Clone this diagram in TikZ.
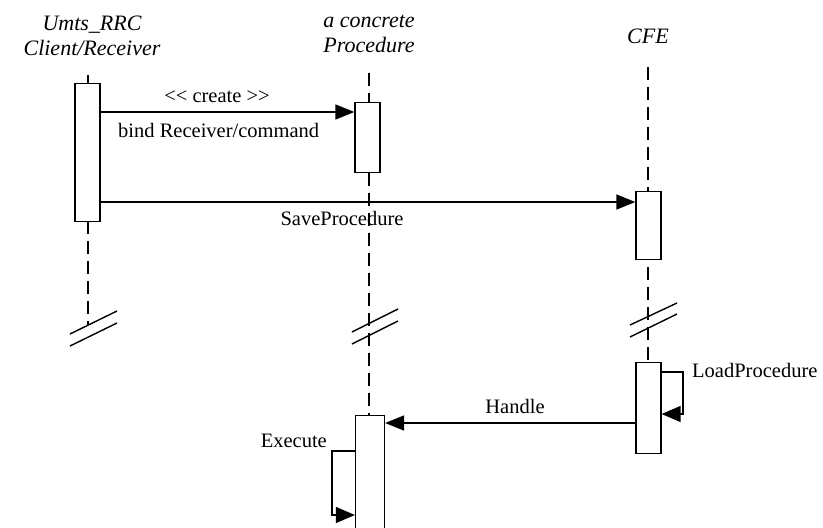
\documentclass[tikz,border=0pt]{standalone}
\usepackage{fontspec}
\setmainfont{Liberation Serif}
\usetikzlibrary{arrows.meta}
\begin{document}
\begin{tikzpicture}[x=1pt,y=-1pt,
  actbox/.style={draw, line width=1.3pt, fill=white, minimum width=25pt, inner sep=0pt, anchor=north},
  life/.style={line width=1.4pt, dash pattern=on 13pt off 7pt},
  brk/.style={line width=1.4pt},
  msg/.style={line width=1.6pt, -{Triangle[length=19pt,width=15pt]}},
  selfmsg/.style={line width=1.4pt, -{Triangle[length=19pt,width=16pt]}},
  title/.style={font=\fontsize{22}{24.5}\selectfont\itshape, align=center, anchor=base, inner sep=0pt},
  lbl/.style={font=\fontsize{20.5}{24}\selectfont, inner sep=0pt}
]
\useasboundingbox (0,0) rectangle (823,528);

% titles
\node[title] (tc) at (92,55) {Umts\_RRC\\Client/Receiver};
\node[title] (tp) at (369,52) {a concrete\\Procedure};
\node[title] (tf) at (648,43) {CFE};

% lifelines
\coordinate (ca) at (88,75);   \coordinate (cb) at (88,325);
\coordinate (pa) at (369,73);  \coordinate (pb) at (369,416);
\coordinate (fa) at (648,67);  \coordinate (fb) at (648,363);
\draw[brk] (ca) -- (88,84);
\draw[life] (88,221) -- (cb);
\draw[life] (pa) -- (pb);
\draw[life] (fa) -- (fb);

% break marks
\draw[brk] (70,334) -- (117,311);
\draw[brk] (70,346) -- (117,323);
\draw[brk] (352,332) -- (398,309);
\draw[brk] (352,344) -- (398,321);
\draw[brk] (630,325) -- (677,303);
\draw[brk] (630,337) -- (677,314);

% activation boxes
\node[actbox, minimum height=138pt] (c1) at (87.5,83) {};
\node[actbox, minimum height=70pt] (p1) at (367.5,102) {};
\node[actbox, minimum height=68pt] (f1) at (648.5,191) {};
\node[actbox, minimum height=91pt] (f2) at (648.5,362) {};
\node[actbox, minimum width=29pt, minimum height=130pt] (p2) at (370,415) {};

% messages
\draw[msg] (c1.east |- 0,112) -- (p1.west |- 0,112);
\draw[msg] (c1.east |- 0,202) -- (f1.west |- 0,202);
\draw[msg] (f2.west |- 0,423) -- (p2.east |- 0,423);
\draw[selfmsg] (f2.east |- 0,372) -- (683,372) |- (f2.east |- 0,414);
\draw[selfmsg] (p2.west |- 0,451) -- (332,451) |- (p2.west |- 0,515);

% labels
\node[lbl, anchor=base] (lcreate) at (217,102) {<\kern0pt< create >\kern0pt>};
\node[lbl, anchor=base west] (lbind) at (118,137) {bind Receiver/command};
\node[lbl, anchor=base] (lsave) at (342,225) {SaveProcedure};
\node[lbl, anchor=base] (lhandle) at (515,413) {Handle};
\node[lbl, anchor=base west] (lload) at (692,377) {LoadProcedure};
\node[lbl, anchor=base east] (lexec) at (327,447) {Execute};
\end{tikzpicture}
\end{document}
